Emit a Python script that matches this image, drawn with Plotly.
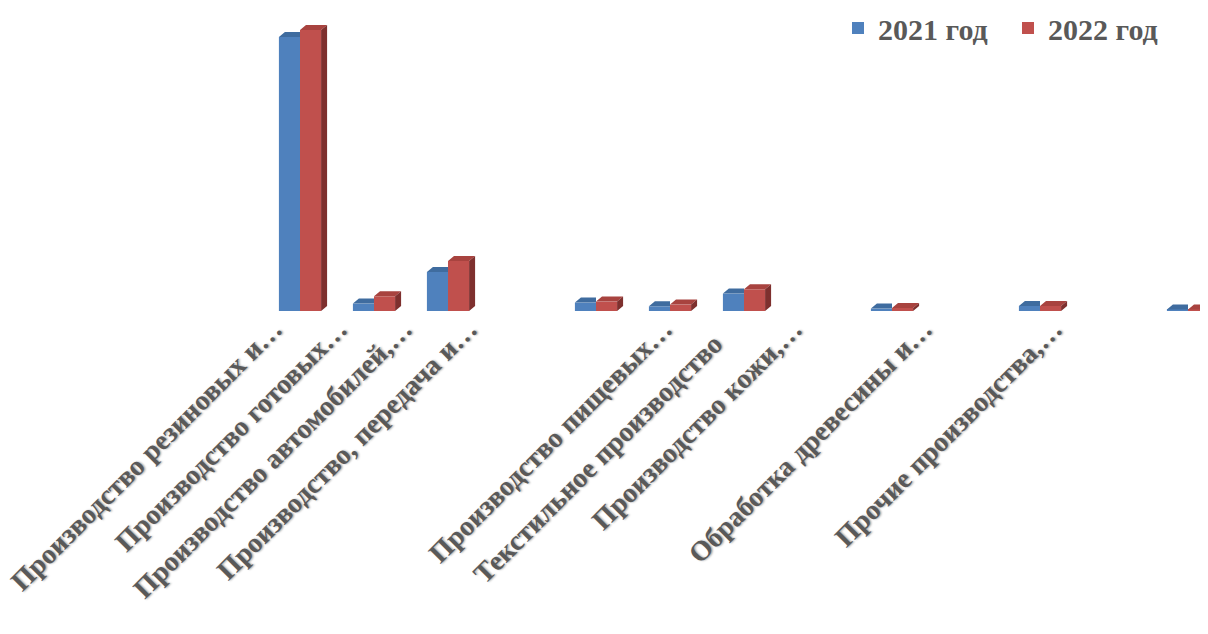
import plotly.graph_objects as go

# ---- data ----
categories = [
    "Производство резиновых и…",
    "Производство готовых…",
    "Производство автомобилей,…",
    "Производство, передача и…",
    "",
    "",
    "Производство пищевых…",
    "Текстильное производство\u00a0\u00a0\u00a0",
    "Производство кожи,…",
    "",
    "Обработка древесины и…",
    "",
    "Прочие производства,…",
]
series_names = ["2021 год", "2022 год"]
values_2021 = [27.4, 0.74, 3.9, 0, 0.84, 0.47, 1.74, 0, 0.24, 0, 0.5, 0, 0.15]
values_2022 = [28.1, 1.47, 5.0, 0, 0.94, 0.64, 2.17, 0, 0.30, 0, 0.5, 0, 0.15]

# ---- layout constants ----
OFF = 8                      # page body margin
W, H = 1208, 634
L, R, T, B = 263 - OFF, 0, 20 - OFF, 323 + OFF
plot_w = W - L - R
plot_h = H - T - B
cat_px = 74.0                # bar spacing in px
lab_first, lab_px = 274.0 - OFF, 65.0   # label anchor spacing (perspective)
y_max = 29.1
px_per_unit = plot_h / y_max

idx = list(range(len(categories)))
x_range = [-0.5, -0.5 + plot_w / cat_px]
a2 = (L - lab_first) / lab_px
x2_range = [a2, a2 + plot_w / lab_px]

bargap = 0.43
bw = (1 - bargap) / 2        # width of one bar in category units
depth_dx = 6 / cat_px        # 3D depth offset
depth_dy = 5 / px_per_unit

blue = "#4F81BD"
red = "#C0504D"
blue_top = "#3F6C9F"
red_top = "#A8433F"
red_side = "#7E302E"
txt = "#595959"
font_family = "Liberation Serif, Times New Roman, serif"

fig = go.Figure()
fig.add_trace(go.Bar(x=idx, y=values_2021, name=series_names[0],
                     marker=dict(color=blue, line=dict(width=0))))
fig.add_trace(go.Bar(x=idx, y=values_2022, name=series_names[1],
                     marker=dict(color=red, line=dict(width=0))))


def face_trace(xs, ys, color):
    return go.Scatter(x=xs, y=ys, mode="lines", fill="toself", fillcolor=color,
                      line=dict(width=0, color=color), showlegend=False,
                      hoverinfo="skip")


# top faces of 2021 bars (back-right part hidden by the 2022 bar)
bx, by = [], []
for i, v in zip(idx, values_2021):
    if v <= 0:
        continue
    x0, x1 = i - bw, i
    bx += [x0, x1, x1, x0 + depth_dx, x0, None]
    by += [v, v, v + depth_dy, v + depth_dy, v, None]
fig.add_trace(face_trace(bx, by, blue_top))

# top and side faces of 2022 bars
tx, ty, sx, sy = [], [], [], []
for i, v in zip(idx, values_2022):
    if v <= 0:
        continue
    x0, x1 = i, i + bw
    tx += [x0, x1, x1 + depth_dx, x0 + depth_dx, x0, None]
    ty += [v, v, v + depth_dy, v + depth_dy, v, None]
    sx += [x1, x1 + depth_dx, x1 + depth_dx, x1, x1, None]
    sy += [0, depth_dy, v + depth_dy, v, 0, None]
fig.add_trace(face_trace(tx, ty, red_top))
fig.add_trace(face_trace(sx, sy, red_side))

# carrier for the category labels axis
fig.add_trace(go.Scatter(x=idx, y=[0] * len(idx), xaxis="x2", mode="markers",
                         marker=dict(opacity=0), showlegend=False, hoverinfo="skip"))

fig.update_layout(
    width=W, height=H,
    margin=dict(l=L, r=R, t=T, b=B, pad=0, autoexpand=False),
    paper_bgcolor="white", plot_bgcolor="white",
    barmode="group", bargap=bargap, bargroupgap=0,
    xaxis=dict(range=x_range, showticklabels=False, showgrid=False,
               zeroline=False, showline=False, ticks="", automargin=False),
    xaxis2=dict(range=x2_range, overlaying="x", anchor="y", side="bottom",
                tickmode="array", tickvals=idx, ticktext=categories,
                tickangle=-45, showgrid=False, zeroline=False, showline=False,
                ticks="", ticklabelstandoff=-5, automargin=False,
                ticklabeloverflow="allow",
                tickfont=dict(family=font_family, size=28, color=txt, weight="bold",
                              shadow="1px 1px 2px rgba(0,0,0,0.35)")),
    yaxis=dict(range=[0, y_max], visible=False, automargin=False),
    legend=dict(orientation="h", xref="container", yref="container",
                x=(852 - OFF - 14) / W, xanchor="left", y=1 - 20 / H, yanchor="middle",
                font=dict(family=font_family, size=30, color=txt, weight="bold"),
                itemwidth=30, entrywidth=125, entrywidthmode="pixels",
                bgcolor="rgba(0,0,0,0)"),
    showlegend=True,
)

fig.write_html("out.html")
